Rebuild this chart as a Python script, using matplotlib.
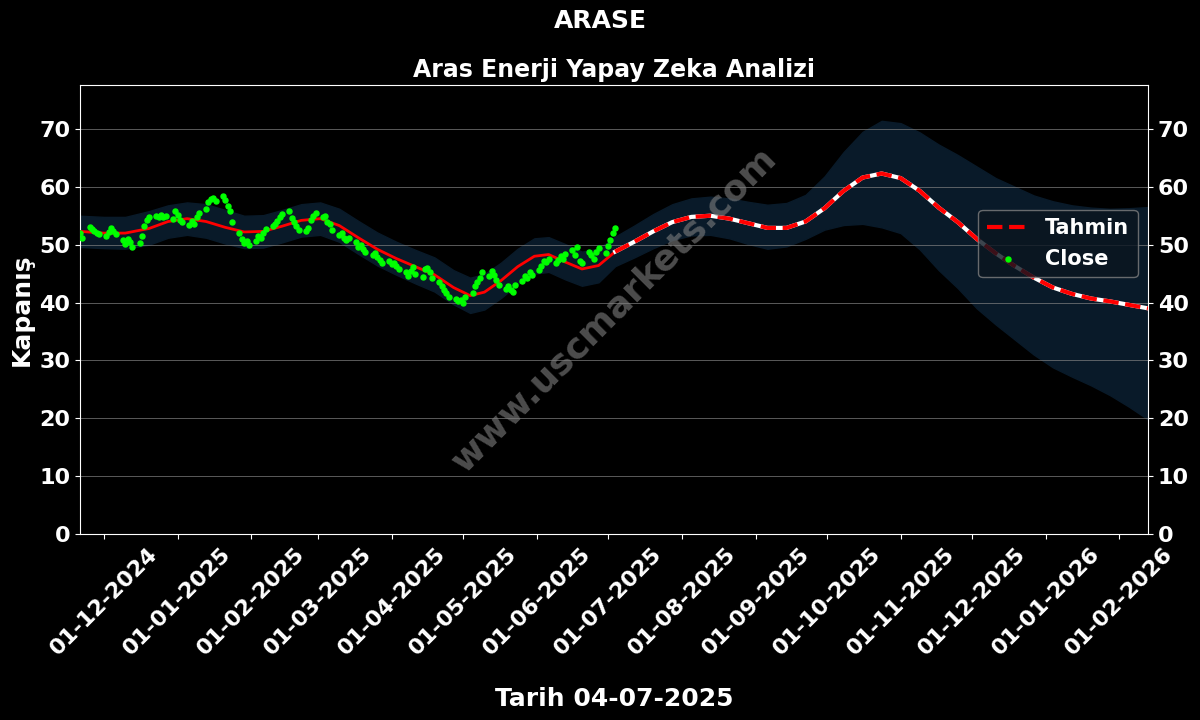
import pandas as pd
import matplotlib.pyplot as plt
import matplotlib.dates as mdates

# gunluk kapanis (Close) - 21-11-2024 .. 04-07-2025, is gunleri
close = [
    52.0, 51.2,
    53.0, 52.7, 52.4, 52.0, 51.8,
    51.5, 52.2, 52.9, 52.3, 51.8,
    50.8, 50.2, 51.0, 50.5, 49.6,
    50.3, 51.5, 53.2, 54.3, 54.8,
    55.0, 54.7, 55.2, 54.8, 54.9,
    54.5, 55.8, 55.2, 54.2, 53.9,
    53.4, 54.1, 53.6, 54.8, 55.4,
    56.2, 57.4, 57.9, 58.1, 57.6,
    58.4, 57.8, 56.6, 55.8, 54.0,
    52.0, 51.0, 50.3, 50.6, 49.9,
    50.7, 51.5, 51.2, 52.0, 52.7,
    53.2, 53.6, 54.1, 54.8, 55.3,
    55.8, 54.6, 54.0, 53.2, 52.5,
    52.3, 52.9, 54.3, 55.0, 55.4,
    54.8, 55.0, 54.0, 53.5, 52.6,
    51.6, 52.0, 51.2, 50.8, 51.1,
    50.4, 49.6, 50.0, 49.3, 48.8,
    48.2, 48.6, 47.8, 47.4, 46.9,
    47.1, 46.6, 46.9, 46.4, 45.8,
    45.3, 44.6, 45.5, 46.2, 45.0,
    44.5, 45.8, 46.0, 45.2, 44.2,
    43.6, 42.9, 42.2, 41.6, 41.0,
    40.6, 40.2, 40.5, 40.0, 40.9,
    41.6, 42.8, 43.6, 44.2, 45.2,
    44.6, 45.4, 44.8, 43.9, 43.0,
    42.4, 42.8, 42.1, 41.9, 43.0,
    43.8, 44.6, 44.3, 45.2, 44.8,
    45.6, 46.4, 47.1, 47.0, 47.6,
    46.8, 47.3, 48.0, 47.6, 48.4,
    49.0, 48.2, 49.6, 47.2, 46.8,
    48.8, 48.3, 47.5, 48.8, 49.4,
    48.6, 49.8, 50.8, 52.0, 52.8,
]
close_dates = pd.bdate_range("2024-11-21", periods=len(close))

# model (gecmis) egrisi
fit_dates = pd.to_datetime([
    "2024-11-21", "2024-12-01", "2024-12-10", "2024-12-20", "2024-12-28",
    "2025-01-05", "2025-01-13", "2025-01-21", "2025-01-29", "2025-02-06",
    "2025-02-14", "2025-02-22", "2025-03-02", "2025-03-10", "2025-03-18",
    "2025-03-26", "2025-04-03", "2025-04-11", "2025-04-19", "2025-04-27",
    "2025-05-04", "2025-05-10", "2025-05-17", "2025-05-24", "2025-05-31",
    "2025-06-06", "2025-06-13", "2025-06-20", "2025-06-27", "2025-07-04",
])
fit = [52.3, 52.0, 52.0, 52.8, 54.0,
       54.5, 54.0, 53.0, 52.2, 52.3,
       53.2, 54.2, 54.5, 53.3, 51.2,
       49.2, 47.6, 46.2, 44.8, 42.6,
       41.2, 41.8, 43.8, 46.2, 48.0,
       48.3, 47.0, 45.8, 46.4, 48.8]
fit_upper = [55.0, 54.8, 54.8, 55.8, 56.8,
             57.3, 57.0, 56.0, 55.0, 55.1,
             56.0, 57.0, 57.3, 56.2, 54.1,
             52.1, 50.5, 49.1, 47.8, 45.6,
             44.3, 44.9, 46.9, 49.3, 51.1,
             51.3, 50.1, 48.8, 49.3, 51.4]
fit_lower = [49.6, 49.4, 49.3, 50.0, 51.2,
             51.7, 51.2, 50.2, 49.4, 49.5,
             50.4, 51.4, 51.7, 50.5, 48.4,
             46.4, 44.8, 43.3, 41.9, 39.7,
             38.2, 38.8, 40.8, 43.2, 45.0,
             45.3, 44.0, 42.9, 43.5, 46.3]

# tahmin
fc_dates = pd.to_datetime([
    "2025-07-04", "2025-07-12", "2025-07-20", "2025-07-28", "2025-08-05",
    "2025-08-13", "2025-08-21", "2025-08-29", "2025-09-06", "2025-09-14",
    "2025-09-22", "2025-09-30", "2025-10-08", "2025-10-16", "2025-10-24",
    "2025-11-01", "2025-11-09", "2025-11-17", "2025-11-25", "2025-12-03",
    "2025-12-11", "2025-12-19", "2025-12-27", "2026-01-04", "2026-01-12",
    "2026-01-20", "2026-01-28", "2026-02-05", "2026-02-13",
])
forecast = [48.8, 50.5, 52.3, 53.9, 54.8,
            55.0, 54.5, 53.7, 52.9, 52.9,
            54.0, 56.3, 59.3, 61.6, 62.3,
            61.5, 59.3, 56.4, 53.9, 51.0,
            48.5, 46.3, 44.3, 42.6, 41.5,
            40.7, 40.2, 39.6, 39.0]
fc_upper = [51.4, 53.3, 55.3, 57.0, 58.0,
            58.3, 58.0, 57.4, 56.9, 57.2,
            58.6, 61.8, 66.0, 69.5, 71.4,
            71.0, 69.4, 67.3, 65.5, 63.5,
            61.5, 60.0, 58.5, 57.5, 56.8,
            56.4, 56.2, 56.3, 56.5]
fc_lower = [46.3, 47.8, 49.4, 50.8, 51.6,
            51.7, 51.1, 50.1, 49.3, 49.7,
            51.0, 52.6, 53.4, 53.6, 53.0,
            52.0, 49.2, 45.6, 42.5, 39.0,
            36.2, 33.6, 31.0, 28.8, 27.2,
            25.7, 24.0, 22.0, 19.8]

band_dates = fit_dates.append(fc_dates[1:])
band_upper = fit_upper + fc_upper[1:]
band_lower = fit_lower + fc_lower[1:]

plt.rcParams['font.weight'] = 'bold'
fig = plt.figure(figsize=(12, 7.2), dpi=100, facecolor='black')
ax = fig.add_axes([0.0667, 0.2583, 0.89, 0.6237])
ax.set_facecolor('black')

ax.fill_between(band_dates, band_lower, band_upper, color='#091a29', zorder=1)
ax.grid(axis='y', color='gray', linewidth=0.7, alpha=0.7, zorder=0)
ax.plot(fit_dates, fit, color='red', linewidth=2, zorder=3)
ax.plot(fc_dates, forecast, color='white', linewidth=3, zorder=3)
ax.plot(fc_dates, forecast, color='red', linewidth=3, linestyle='--', label='Tahmin', zorder=4)
ax.scatter(close_dates, close, color='#00ff00', s=13, label='Close', zorder=5)

ax.set_ylim(0, 77.6)
ax.set_xlim(pd.Timestamp("2024-11-21"), pd.Timestamp("2026-02-13"))
ax.set_yticks(range(0, 80, 10))
ax.xaxis.set_major_locator(mdates.MonthLocator())
ax.xaxis.set_major_formatter(mdates.DateFormatter('%d-%m-%Y'))
ax.tick_params(colors='white', labelsize=16, right=True, labelright=True)
for lbl in ax.get_xticklabels():
    lbl.set_rotation(45)
    lbl.set_fontweight('bold')
for sp in ax.spines.values():
    sp.set_color('white')

ax.set_title('Aras Enerji Yapay Zeka Analizi', color='white', fontsize=17, fontweight='bold')
fig.suptitle('ARASE', color='white', fontsize=18, fontweight='bold', y=0.987)
ax.set_ylabel('Kapanış', color='white', fontsize=18, fontweight='bold', labelpad=4)
ax.set_xlabel('Tarih 04-07-2025', color='white', fontsize=18, fontweight='bold', labelpad=20)

ax.text(0.5, 0.5, 'www.uscmarkets.com', transform=ax.transAxes, rotation=45,
        ha='center', va='center', fontsize=26, fontweight='bold', color='gray',
        alpha=0.6, zorder=6)

leg = ax.legend(loc='upper right', bbox_to_anchor=(1.0, 0.745), fontsize=15,
                facecolor='#0b1520', edgecolor='gray', labelcolor='white')
for t in leg.get_texts():
    t.set_fontweight('bold')

fig.savefig('out.png', facecolor='black')
